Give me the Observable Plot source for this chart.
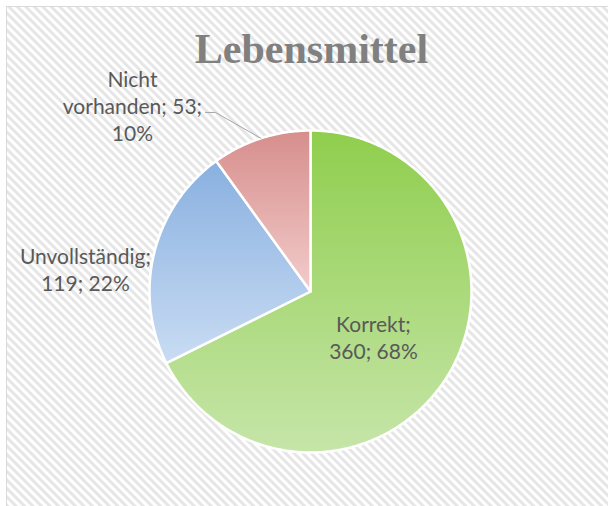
<!DOCTYPE html>
<html>
<head>
<meta charset="utf-8">
<script src="https://cdn.jsdelivr.net/npm/d3@7"></script>
<script src="https://cdn.jsdelivr.net/npm/@observablehq/plot@0.6"></script>
<style>
  html, body { margin: 0; padding: 0; background: #fff; }
  #chart { width: 608px; height: 506px; overflow: hidden; }
</style>
</head>
<body>
<div id="chart"></div>
<script>
// ---- data ----
const title = "Lebensmittel";
const categories = ["Korrekt", "Unvollständig", "Nicht vorhanden"];
const values = [360, 119, 53];
const percents = ["68%", "22%", "10%"];
const labelLines = [["Korrekt;", "360; 68%"], ["Unvollständig;", "119; 22%"], ["Nicht", "vorhanden; 53;", "10%"]];

// ---- styling / layout ----
const gradients = [
  ["gK", "#8fce4d", "#c6e5a9"],
  ["gU", "#89b0e0", "#c9dcf3"],
  ["gN", "#d68e8c", "#f2cccb"]
];
const labelPos = [[0.391, -0.283], [-1.398, 0.140], [-1.106, 1.158]];

// ---- pie geometry via d3.pie ----
const arcs = d3.pie().sort(null).value(d => d)(values);
const slices = arcs.map((a, i) => {
  const n = Math.max(2, Math.ceil((a.endAngle - a.startAngle) / 0.01));
  const pts = [{x: 0, y: 0}];
  for (let k = 0; k <= n; k++) {
    const t = a.startAngle + (a.endAngle - a.startAngle) * k / n;
    pts.push({x: Math.sin(t), y: Math.cos(t)});
  }
  pts.push({x: 0, y: 0});
  return pts;
});

const labels = categories.map((c, i) => ({
  x: labelPos[i][0], y: labelPos[i][1],
  text: labelLines[i].join("\n")
}));

// leader line for the small slice: from label end to slice mid-angle at radius 1
const midN = (arcs[2].startAngle + arcs[2].endAngle) / 2;
const leader = [
  {x: -0.652, y: 1.112},
  {x: -0.590, y: 1.112},
  {x: Math.sin(midN), y: Math.cos(midN)}
];

const chart = Plot.plot({
  width: 608,
  height: 506,
  margin: 0,
  x: {domain: [-1, 1], range: [149, 471], axis: null},
  y: {domain: [-1, 1], range: [452, 130], axis: null},
  marks: [
    ...slices.map((pts, i) => Plot.line(pts, {
      x: "x", y: "y", curve: "linear",
      fill: `url(#${gradients[i][0]})`, stroke: "white", strokeWidth: 2.5, strokeLinejoin: "round"
    })),
    Plot.line(leader, {x: "x", y: "y", stroke: "#a6a6a6", strokeWidth: 1}),
    Plot.text(labels, {
      x: "x", y: "y", text: "text", fill: "#595959",
      fontSize: 21, lineHeight: 1.28, lineAnchor: "middle", textAnchor: "middle",
      fontFamily: "Lato"
    }),
    Plot.text([title], {
      x: () => 0.006, y: () => 1.505, text: d => d, fill: "#808080",
      fontSize: 42, fontWeight: "bold", fontFamily: "Liberation Serif",
      lineAnchor: "middle", textAnchor: "middle"
    })
  ]
});

// background hatch + frame
const svg = d3.select(chart);
const defs = svg.insert("defs", ":first-child");
const pat = defs.append("pattern").attr("id", "hatch").attr("patternUnits", "userSpaceOnUse")
  .attr("width", 6).attr("height", 6).attr("patternTransform", "rotate(-45)");
pat.append("rect").attr("width", 6).attr("height", 6).attr("fill", "#ffffff");
pat.append("rect").attr("width", 3).attr("height", 6).attr("fill", "#e6e6e6");
gradients.forEach(([id, c0, c1]) => {
  const g = defs.append("linearGradient").attr("id", id).attr("x1", 0).attr("y1", 0).attr("x2", 0).attr("y2", 1);
  g.append("stop").attr("offset", "0%").attr("stop-color", c0);
  g.append("stop").attr("offset", "100%").attr("stop-color", c1);
});
svg.insert("rect", "defs + *").attr("x", 6.5).attr("y", 6.5).attr("width", 640).attr("height", 540)
  .attr("fill", "url(#hatch)").attr("stroke", "#d9d9d9").attr("stroke-width", 1);
svg.style("background", "#ffffff");

document.getElementById("chart").appendChild(chart);
</script>
</body>
</html>
